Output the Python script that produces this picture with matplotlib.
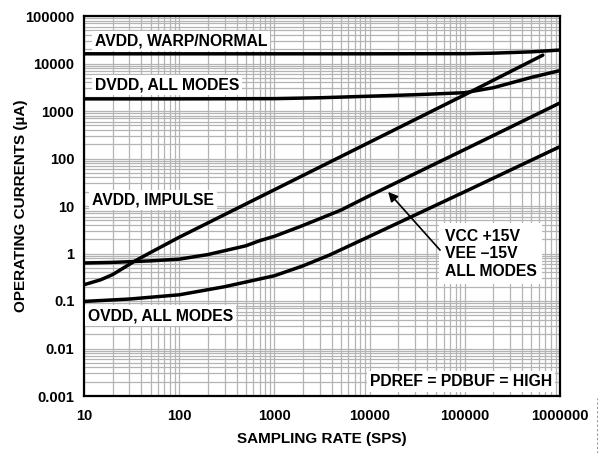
import matplotlib
matplotlib.use("Agg")
import matplotlib.pyplot as plt
from matplotlib.lines import Line2D

plt.rcParams['font.family'] = 'Liberation Sans'
plt.rcParams['font.weight'] = 'bold'

# tick values and labels
X_TICKS = [10, 100, 1000, 10000, 100000, 1000000]
X_LABELS = ["10", "100", "1000", "10000", "100000", "1000000"]
Y_TICKS = [0.001, 0.01, 0.1, 1, 10, 100, 1000, 10000, 100000]
Y_LABELS = ["0.001", "0.01", "0.1", "1", "10", "100", "1000", "10000", "100000"]

# curves (sampling rate in SPS, current in uA)
avdd_warp_x = [10, 100, 1000, 10000, 100000, 200000, 500000, 1000000]
avdd_warp_y = [16000, 16000, 16000, 16000, 16100, 16500, 17600, 19200]

dvdd_x = [10, 100, 1000, 3000, 10000, 30000, 100000, 200000, 500000, 1000000]
dvdd_y = [1800, 1800, 1820, 1900, 2050, 2200, 2430, 3100, 5100, 7100]

avdd_imp_x = [10, 15, 20, 34, 50, 100, 200, 500, 1000, 10000, 100000, 660000]
avdd_imp_y = [0.22, 0.28, 0.36, 0.69, 1.05, 2.2, 4.4, 11, 22, 220, 2200, 15000]

vcc_x = [10, 20, 50, 100, 200, 500, 700, 1000, 2000, 5000, 10000, 100000, 1000000]
vcc_y = [0.63, 0.65, 0.70, 0.76, 0.95, 1.45, 1.86, 2.3, 3.9, 8.2, 16.5, 155, 1480]

ovdd_x = [10, 30, 100, 300, 1000, 2000, 3800, 10000, 100000, 1000000]
ovdd_y = [0.098, 0.11, 0.135, 0.2, 0.34, 0.55, 0.93, 2.3, 20, 178]

fig = plt.figure(figsize=(6.03, 4.53), dpi=100)
ax = fig.add_axes([84/603, 57/453, 476/603, 380/453])

ax.set_xscale('log')
ax.set_yscale('log')
ax.set_xlim(10, 1000000)
ax.set_ylim(0.001, 100000)

ax.grid(True, which='both', color='#b4b4b4', linewidth=0.9)
ax.set_axisbelow(True)

for xs, ys in [(avdd_warp_x, avdd_warp_y), (dvdd_x, dvdd_y), (avdd_imp_x, avdd_imp_y),
               (vcc_x, vcc_y), (ovdd_x, ovdd_y)]:
	ax.plot(xs, ys, color='black', linewidth=2.5, solid_capstyle='round', solid_joinstyle='round')

ax.set_xticks(X_TICKS)
ax.set_xticklabels(X_LABELS)
ax.set_yticks(Y_TICKS)
ax.set_yticklabels(Y_LABELS)
ax.tick_params(which='both', length=0, labelsize=10.5)
ax.tick_params(axis='x', pad=9)
ax.tick_params(axis='y', pad=7)
for lbl in ax.get_xticklabels() + ax.get_yticklabels():
	lbl.set_fontweight('bold')

for s in ax.spines.values():
	s.set_linewidth(1.6)

ax.set_xlabel('SAMPLING RATE (SPS)', fontsize=11, fontweight='bold', labelpad=7)
ax.set_ylabel('OPERATING CURRENTS (µA)', fontsize=11, fontweight='bold')
ax.yaxis.label.set_va('center')
ax.yaxis.set_label_coords(-0.132, 0.5)

box = dict(facecolor='white', edgecolor='none', pad=2)
tkw = dict(transform=ax.transAxes, fontsize=11.3, fontweight='bold', bbox=box, zorder=5)
ax.text(0.023, 0.934, 'AVDD, WARP/NORMAL', ha='left', va='center', **tkw)
ax.text(0.023, 0.818, 'DVDD, ALL MODES', ha='left', va='center', **tkw)
ax.text(0.017, 0.516, 'AVDD, IMPULSE', ha='left', va='center', **tkw)
ax.text(0.008, 0.211, 'OVDD, ALL MODES', ha='left', va='center', **tkw)
ax.text(0.983, 0.039, 'PDREF = PDBUF = HIGH', ha='right', va='center', **tkw)
ax.text(0.758, 0.374, 'VCC +15V\nVEE –15V\nALL MODES', ha='left', va='center',
	linespacing=1.2, transform=ax.transAxes, fontsize=11.3, fontweight='bold',
	bbox=dict(facecolor='white', edgecolor='none', pad=4), zorder=5)

ax.annotate('', xy=(0.639, 0.537), xytext=(0.748, 0.384),
	xycoords='axes fraction', textcoords='axes fraction',
	arrowprops=dict(arrowstyle='-|>', color='black', lw=1.2, mutation_scale=14, shrinkA=0, shrinkB=0),
	zorder=6)

# dashed crop mark at the right edge
fig.add_artist(Line2D([597/603, 597/603], [0, 55/453], color='#999999',
	linewidth=0.8, linestyle=(0, (2, 2)), transform=fig.transFigure))

fig.savefig('out.png', dpi=100)
